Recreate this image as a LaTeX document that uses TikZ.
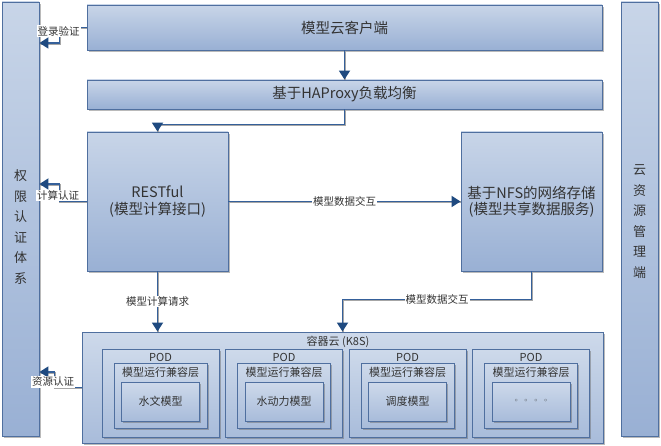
\documentclass[tikz,border=0pt]{standalone}
\usepackage{fontspec}
\setmainfont{Noto Sans CJK SC}
\newfontfamily\dejavu{DejaVu Sans}
\usetikzlibrary{shadows,arrows.meta}
\definecolor{boxtop}{HTML}{C8D5E8}
\definecolor{boxbot}{HTML}{99B0D4}
\definecolor{boxline}{HTML}{4F6F9F}
\definecolor{conn}{HTML}{35609A}
\definecolor{arrowc}{HTML}{1F4A80}
\definecolor{txt}{HTML}{333333}
\tikzset{
  box/.style={draw=boxline, line width=0.9pt, top color=boxtop, bottom color=boxbot,
    drop shadow={shadow xshift=1.8pt, shadow yshift=-1.8pt, opacity=0.45, fill=black!60},
    text=txt, align=center, inner sep=0pt},
  podbox/.style={box, top color=boxtop!90!white, bottom color=boxbot!85!white},
  title/.style={font=\fontsize{14.5}{16.5}\selectfont},
  small/.style={font=\fontsize{11}{13}\selectfont, text=txt, inner sep=0pt},
  vtext/.style={align=center, font=\fontsize{13}{20.5}\selectfont, text=txt},
  lbl/.style={fill=white, inner sep=1pt, font=\fontsize{10.5}{12}\selectfont, text=txt},
  arr/.style={draw=conn, line width=1.8pt, -{Triangle[width=11pt,length=9pt,color=arrowc]},
    preaction={draw=black!35, line width=1.8pt, transform canvas={xshift=0.8pt,yshift=-0.8pt}, -}},
}
\begin{document}
\begin{tikzpicture}[x=1pt,y=-1pt]
\useasboundingbox (0,0) rectangle (661,446);
\fill[white] (0,0) rectangle (661,446);

% side bars
\node[box, minimum width=37pt, minimum height=434pt] (auth) at (20.5,219) {};
\node[vtext] (authlbl) at (20.5,227) {权\\限\\认\\证\\体\\系};
\node[box, minimum width=37pt, minimum height=434pt] (res) at (639.5,219) {};
\node[vtext] (reslbl) at (639.5,221.5) {云\\资\\源\\管\\理\\端};

% main boxes
\node[box, title, minimum width=515pt, minimum height=45pt] (client) at (344.5,27.5) {模型云客户端};
\node[box, title, minimum width=515pt, minimum height=29pt] (lb) at (344.5,94.5) {基于HAProxy负载均衡};
\node[box, title, minimum width=141pt, minimum height=139pt] (rest) at (157.5,201.5) {RESTful\\(模型计算接口)};
\node[box, title, minimum width=141pt, minimum height=139pt] (nfs) at (531.5,201.5) {基于NFS的网络存储\\(模型共享数据服务)};

% container cloud
\node[podbox, minimum width=521pt, minimum height=111pt] (k8s) at (342.5,387.5) {};
\node[small] (k8slbl) at (338,342) {容器云 (K8S)};

\foreach \i/\m in {1/水文模型,2/水动力模型,3/调度模型,4/{\dejavu\fontsize{8}{10}\selectfont ◦\ \ ◦\ \ ◦\ \ ◦}} {
  \pgfmathsetmacro{\cx}{102+(\i-1)*123.5+58.5}
  \node[podbox, minimum width=117pt, minimum height=88pt] (pod\i) at (\cx,393) {};
  \node[small] (podlbl\i) at (\cx,357) {POD};
  \node[podbox, minimum width=93pt, minimum height=65pt] (layer\i) at (\cx,395.5) {};
  \node[small] (layerlbl\i) at (\cx,372) {模型运行兼容层};
  \node[podbox, small, minimum width=78pt, minimum height=39pt] (model\i) at (\cx,401.5) {\m};
}

% connectors
\draw[arr] (client) -- (lb);
\draw[arr] (lb.south) -- ++(0,15) -| (rest.north);
\draw[arr] (client.west) -- ++(-27,0) node[lbl, yshift=-3.5pt, xshift=-1pt]{登录验证} |- (auth.east |- 0,43);
\draw[arr] (rest.west) -- ++(-27,0) node[lbl, yshift=6pt, xshift=-1.5pt]{计算认证} |- (auth.east |- 0,184);
\draw[arr] (k8s.west) -- ++(-27,0) node[lbl, yshift=5.5pt, xshift=-1.5pt]{资源认证} |- (auth.east |- 0,372);
\draw[arr] (rest.east) -- node[lbl]{模型数据交互} (nfs.west);
\draw[arr] (rest.south) -- node[lbl]{模型计算请求} (rest.south |- k8s.north);
\draw[arr] (nfs.south) -- ++(0,28) -| node[lbl, pos=0.25]{模型数据交互} (k8s.north);
\end{tikzpicture}
\end{document}
